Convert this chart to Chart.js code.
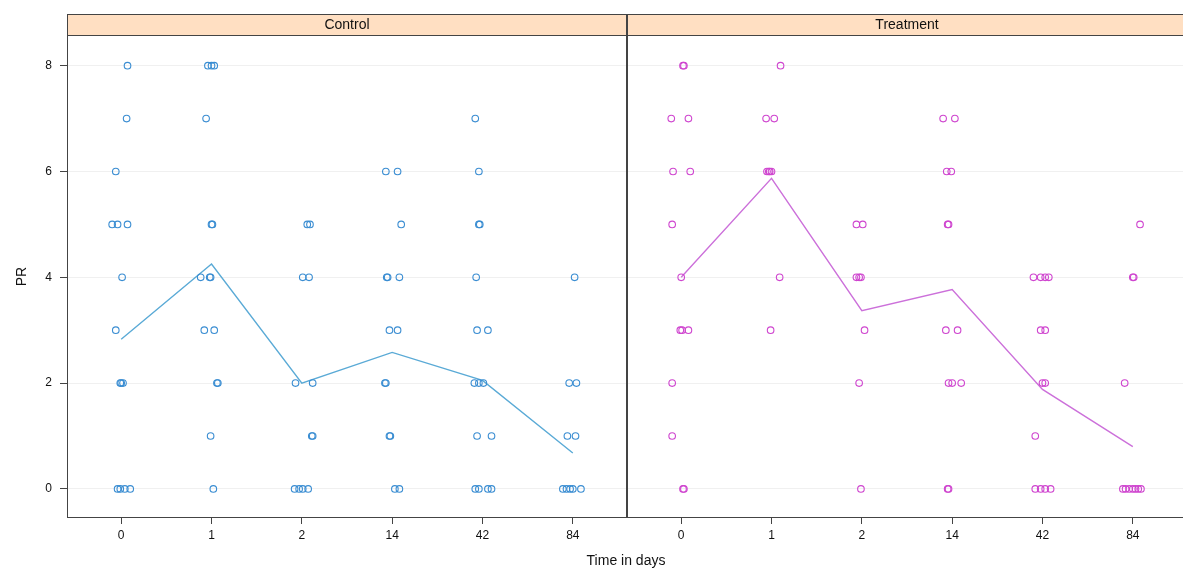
<!DOCTYPE html>
<html>
<head>
<meta charset="utf-8">
<script src="https://cdn.jsdelivr.net/npm/chart.js@4"></script>
<style>
  body { margin: 0; background: #fff; }
  #wrap { position: relative; width: 1183px; height: 570px; overflow: hidden; background: #fff; }
  canvas { position: absolute; top: 0; }
  #xtitle { position: absolute; left: 526px; width: 200px; top: 552px; text-align: center;
            font: 14px "Liberation Sans", Arial, sans-serif; color: #111; }
</style>
</head>
<body>
<div id="wrap">
  <canvas id="ctrl" width="628" height="570" style="left:0"></canvas>
  <canvas id="trt" width="561" height="570" style="left:626px"></canvas>
  <div id="xtitle">Time in days</div>
</div>
<script>
const days = ['0', '1', '2', '14', '42', '84'];
const yTicks = [0, 2, 4, 6, 8];

// mean PR per day (the lines)
const controlMean = [2.83, 4.25, 2.0, 2.58, 2.05, 0.68];
const treatmentMean = [4.0, 5.87, 3.37, 3.77, 1.88, 0.8];

// individual observations: jittered day position (1..6) and PR
const controlX = [
    1.07, 1.06, 0.94, 0.90, 0.96, 1.07, 1.01, 0.94, 0.99, 1.00, 1.02, 0.96, 0.99, 1.04, 1.10, // day 0
    1.96, 2.00, 2.03, 1.94, 2.00, 2.01, 1.88, 1.98, 1.99, 1.92, 2.03, 2.07, 2.06, 1.99, 2.02, // day 1
    3.06, 3.09, 3.01, 3.08, 2.93, 3.12, 3.11, 3.12, 2.92, 2.97, 3.01, 3.07,                   // day 2
    3.93, 4.06, 4.10, 3.94, 3.95, 4.08, 3.97, 4.06, 3.92, 3.93, 3.98, 3.97, 4.03, 4.08,       // day 14
    4.92, 4.96, 4.96, 4.97, 4.93, 4.94, 5.06, 4.91, 4.96, 5.01, 4.94, 5.10, 4.92, 4.96, 5.06, 5.10, // day 42
    6.02, 5.96, 6.04, 5.94, 6.03, 5.89, 5.93, 5.97, 6.00, 6.09                                // day 84
];
const controlPR = [
    8, 7, 6, 5, 5, 5, 4, 3, 2, 2, 2, 0, 0, 0, 0,
    8, 8, 8, 7, 5, 5, 4, 4, 4, 3, 3, 2, 2, 1, 0,
    5, 5, 4, 4, 2, 2, 1, 1, 0, 0, 0, 0,
    6, 6, 5, 4, 4, 4, 3, 3, 2, 2, 1, 1, 0, 0,
    7, 6, 5, 5, 4, 3, 3, 2, 2, 2, 1, 1, 0, 0, 0, 0,
    4, 2, 2, 1, 1, 0, 0, 0, 0, 0
];

const treatmentX = [
    1.02, 1.03, 0.89, 1.08, 0.91, 1.10, 0.90, 1.00, 0.99, 1.01, 1.08, 0.90, 0.90, 1.02, 1.03, // day 0
    2.10, 1.94, 2.03, 1.95, 1.97, 1.98, 2.00, 2.09, 1.99,                                     // day 1
    2.94, 3.01, 2.94, 2.97, 2.99, 3.03, 2.97, 2.99,                                           // day 2
    3.90, 4.03, 3.94, 3.99, 3.95, 3.96, 3.93, 4.06, 3.96, 4.00, 4.10, 3.95, 3.96,             // day 14
    4.90, 4.98, 5.03, 5.07, 4.98, 5.03, 5.00, 5.03, 4.92, 4.92, 4.98, 5.03, 5.09,             // day 42
    6.08, 6.00, 6.01, 5.91, 5.89, 5.92, 5.96, 6.00, 6.03, 6.06, 6.09                          // day 84
];
const treatmentPR = [
    8, 8, 7, 7, 6, 6, 5, 4, 3, 3, 3, 2, 1, 0, 0,
    8, 7, 7, 6, 6, 6, 6, 4, 3,
    5, 5, 4, 4, 4, 3, 2, 0,
    7, 7, 6, 6, 5, 5, 3, 3, 2, 2, 2, 0, 0,
    4, 4, 4, 4, 3, 3, 2, 2, 1, 0, 0, 0, 0,
    5, 4, 4, 2, 0, 0, 0, 0, 0, 0, 0
];

const FONT = '"Liberation Sans", Arial, sans-serif';

// lattice style strip on top of the panel plus the panel box
const stripPlugin = {
    id: 'strip',
    afterDraw(chart, args, opts) {
        const { ctx, chartArea: a } = chart;
        ctx.save();
        ctx.fillStyle = '#ffdfc2';
        ctx.fillRect(a.left, a.top - 21, a.right - a.left, 21);
        ctx.strokeStyle = '#444';
        ctx.lineWidth = 1;
        ctx.strokeRect(a.left + 0.5, a.top - 20.5, a.right - a.left - 1, 21);
        ctx.strokeRect(a.left + 0.5, a.top + 0.5, a.right - a.left - 1, a.bottom - a.top - 1);
        ctx.fillStyle = '#111';
        ctx.font = '14px ' + FONT;
        ctx.textAlign = 'center';
        ctx.textBaseline = 'middle';
        ctx.fillText(opts.text, (a.left + a.right) / 2, a.top - 10);
        ctx.restore();
    }
};

function makePanel(id, label, xs, ys, means, pointColor, lineColor, first) {
    const pts = xs.map((x, i) => ({ x: x, y: ys[i] }));
    const line = means.map((m, i) => ({ x: i + 1, y: m }));

    return new Chart(document.getElementById(id), {
        type: 'scatter',
        data: {
            datasets: [{
                data: pts,
                pointStyle: 'circle',
                pointRadius: 3.3,
                pointBackgroundColor: 'rgba(0,0,0,0)',
                pointBorderColor: pointColor,
                pointBorderWidth: 1.1
            }, {
                type: 'line',
                data: line,
                borderColor: lineColor,
                borderWidth: 1.4,
                pointRadius: 0,
                fill: false,
                tension: 0
            }]
        },
        options: {
            responsive: false,
            animation: false,
            events: [],
            layout: {
                autoPadding: false,
                padding: { top: 35, right: first ? 1 : 0, left: first ? 0 : 1, bottom: 0 }
            },
            plugins: {
                legend: { display: false },
                tooltip: { enabled: false },
                strip: { text: label }
            },
            scales: {
                x: {
                    type: 'linear',
                    min: 0.4,
                    max: 6.6,
                    afterBuildTicks: s => { s.ticks = days.map((d, i) => ({ value: i + 1 })); },
                    afterFit: s => { s.height = 52; },
                    ticks: {
                        callback: v => days[v - 1],
                        color: '#111',
                        font: { family: FONT, size: 12 },
                        padding: 4,
                        maxRotation: 0
                    },
                    grid: { drawOnChartArea: false, drawTicks: true, tickLength: 6, tickColor: '#444' },
                    border: { display: false }
                },
                y: {
                    type: 'linear',
                    min: -0.55,
                    max: 8.58,
                    afterBuildTicks: s => { s.ticks = yTicks.map(v => ({ value: v })); },
                    afterFit: s => { s.width = first ? 67 : 0; },
                    title: first
                        ? { display: true, text: 'PR', color: '#111', font: { family: FONT, size: 14 }, padding: { top: 14 } }
                        : { display: false },
                    ticks: {
                        display: first,
                        color: '#111',
                        font: { family: FONT, size: 12 },
                        padding: 8
                    },
                    grid: {
                        color: '#f0f0f0',
                        drawTicks: first,
                        tickLength: 7,
                        tickColor: '#444'
                    },
                    border: { display: false }
                }
            }
        },
        plugins: [stripPlugin]
    });
}

makePanel('ctrl', 'Control', controlX, controlPR, controlMean, '#3a8dd2', '#5aaad6', true);
makePanel('trt', 'Treatment', treatmentX, treatmentPR, treatmentMean, '#cf45cf', '#cc70da', false);
</script>
</body>
</html>
